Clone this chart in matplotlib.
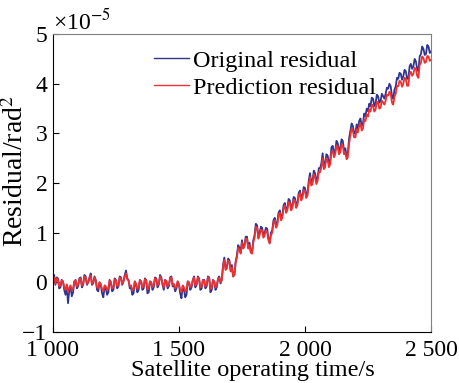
import numpy as np
import matplotlib.pyplot as plt

plt.rcParams["font.family"] = ["Liberation Serif", "DejaVu Serif"]
plt.rcParams["mathtext.fontset"] = "stix"

# time axis (s), one sample every 5 s
t = np.arange(1000, 2505, 5)

# residuals, in units of 1e-5 rad^2
original = [
    0.05, 0.15, -0.05, 0.10, 0.08, -0.12, -0.10, 0.05, 0.02, -0.15,
    -0.25, -0.05, -0.42, -0.15, -0.10, -0.28, -0.20, 0.02, 0.05, -0.12,
    -0.08, 0.08, 0.10, -0.10, -0.05, 0.15, 0.12, -0.05, 0.00, 0.10,
    0.18, -0.05, -0.02, 0.12, 0.05, -0.15, -0.18, 0.00, -0.05, -0.22,
    -0.30, -0.10, -0.12, -0.25, -0.20, 0.05, 0.00, -0.18, -0.15, 0.08,
    0.05, -0.12, -0.08, 0.12, 0.10, -0.05, 0.02, 0.15, 0.24, 0.08,
    0.05, -0.12, -0.10, -0.25, -0.22, 0.02, -0.05, -0.20, -0.15, 0.05,
    0.02, -0.15, -0.12, 0.08, 0.05, -0.22, -0.20, 0.02, 0.00, -0.15,
    -0.10, 0.10, 0.08, -0.10, -0.05, 0.15, 0.10, -0.05, -0.15, 0.05,
    0.03, -0.12, -0.08, 0.10, 0.12, -0.08, -0.05, -0.18, -0.12, 0.02,
    -0.05, -0.22, -0.32, -0.08, -0.15, -0.30, -0.25, 0.02, 0.00, -0.15,
    -0.10, 0.05, 0.12, -0.10, -0.05, 0.12, 0.08, -0.15, -0.12, 0.05,
    0.05, -0.12, -0.08, 0.12, 0.10, -0.20, -0.15, 0.05, 0.02, -0.15,
    -0.10, 0.08, 0.12, -0.02, 0.05, 0.35, 0.50, 0.28, 0.30, 0.48,
    0.45, 0.25, 0.35, 0.12, 0.15, 0.42, 0.55, 0.75, 0.70, 0.60,
    0.85, 0.70, 0.75, 0.92, 0.92, 0.70, 0.80, 0.62, 0.60, 0.85,
    0.95, 1.18, 1.15, 0.92, 1.00, 1.12, 1.10, 0.95, 1.00, 1.10,
    1.08, 0.88, 0.80, 1.00, 1.05, 1.25, 1.30, 1.15, 1.20, 1.40,
    1.45, 1.30, 1.35, 1.55, 1.60, 1.45, 1.50, 1.68, 1.65, 1.50,
    1.55, 1.72, 1.70, 1.55, 1.60, 1.80, 1.85, 1.70, 1.75, 1.92,
    1.90, 1.75, 1.80, 2.05, 2.20, 2.00, 2.05, 2.25, 2.20, 2.05,
    2.10, 2.30, 2.30, 2.40, 2.60, 2.35, 2.40, 2.58, 2.55, 2.40,
    2.45, 2.72, 2.75, 2.60, 2.65, 2.85, 2.80, 2.65, 2.70, 2.88,
    2.85, 2.65, 2.70, 2.55, 2.60, 2.90, 3.05, 3.20, 3.15, 3.00,
    3.00, 3.18, 3.10, 3.25, 3.30, 3.15, 3.20, 3.40, 3.35, 3.50,
    3.45, 3.60, 3.55, 3.72, 3.70, 3.55, 3.60, 3.78, 3.75, 3.62,
    3.65, 3.80, 3.75, 3.70, 3.80, 3.92, 3.90, 4.00, 3.95, 3.75,
    3.70, 3.88, 3.95, 4.12, 4.10, 4.22, 4.20, 4.08, 4.15, 4.28,
    4.25, 4.10, 4.10, 4.35, 4.40, 4.30, 4.35, 4.50, 4.45, 4.30,
    4.25, 4.55, 4.60, 4.75, 4.70, 4.58, 4.60, 4.78, 4.75, 4.62,
    4.65,
]

prediction = [
    0.04, 0.10, -0.03, 0.08, 0.06, -0.08, -0.06, 0.04, 0.02, -0.10,
    -0.15, -0.04, -0.20, -0.10, -0.06, -0.16, -0.12, 0.02, 0.04, -0.08,
    -0.05, 0.06, 0.08, -0.06, -0.03, 0.12, 0.10, -0.03, 0.00, 0.08,
    0.14, -0.03, 0.00, 0.10, 0.04, -0.10, -0.12, 0.00, -0.03, -0.14,
    -0.18, -0.06, -0.08, -0.15, -0.12, 0.04, 0.00, -0.12, -0.10, 0.06,
    0.04, -0.08, -0.05, 0.10, 0.08, -0.03, 0.02, 0.12, 0.18, 0.06,
    0.04, -0.08, -0.06, -0.16, -0.14, 0.02, -0.03, -0.13, -0.10, 0.04,
    0.02, -0.10, -0.08, 0.06, 0.04, -0.14, -0.12, 0.02, 0.00, -0.10,
    -0.06, 0.08, 0.06, -0.06, -0.03, 0.12, 0.08, -0.03, -0.10, 0.04,
    0.03, -0.08, -0.05, 0.08, 0.10, -0.05, -0.03, -0.12, -0.08, 0.02,
    -0.04, -0.15, -0.20, -0.06, -0.10, -0.18, -0.15, 0.02, 0.00, -0.10,
    -0.06, 0.04, 0.10, -0.06, -0.03, 0.10, 0.06, -0.10, -0.08, 0.04,
    0.04, -0.08, -0.05, 0.10, 0.08, -0.13, -0.10, 0.04, 0.02, -0.10,
    -0.06, 0.06, 0.10, 0.00, 0.05, 0.32, 0.45, 0.25, 0.28, 0.44,
    0.42, 0.22, 0.30, 0.12, 0.15, 0.40, 0.50, 0.70, 0.65, 0.58,
    0.80, 0.68, 0.72, 0.88, 0.88, 0.68, 0.75, 0.60, 0.58, 0.80,
    0.90, 1.12, 1.10, 0.88, 0.95, 1.06, 1.05, 0.90, 0.95, 1.05,
    1.02, 0.85, 0.78, 0.95, 1.00, 1.20, 1.25, 1.10, 1.15, 1.35,
    1.40, 1.25, 1.30, 1.50, 1.55, 1.40, 1.45, 1.62, 1.60, 1.45,
    1.50, 1.66, 1.65, 1.50, 1.55, 1.74, 1.80, 1.65, 1.70, 1.86,
    1.84, 1.70, 1.75, 1.98, 2.12, 1.95, 1.98, 2.18, 2.12, 1.98,
    2.04, 2.22, 2.22, 2.32, 2.50, 2.28, 2.32, 2.50, 2.46, 2.32,
    2.38, 2.62, 2.65, 2.52, 2.58, 2.76, 2.72, 2.58, 2.62, 2.78,
    2.76, 2.58, 2.62, 2.48, 2.52, 2.80, 2.95, 3.10, 3.05, 2.92,
    2.92, 3.08, 3.02, 3.15, 3.20, 3.06, 3.10, 3.28, 3.25, 3.38,
    3.34, 3.48, 3.44, 3.58, 3.56, 3.44, 3.48, 3.64, 3.62, 3.50,
    3.52, 3.66, 3.62, 3.58, 3.66, 3.78, 3.76, 3.84, 3.80, 3.62,
    3.58, 3.74, 3.80, 3.96, 3.95, 4.06, 4.04, 3.94, 4.00, 4.12,
    4.10, 3.96, 3.96, 4.20, 4.24, 4.16, 4.20, 4.32, 4.30, 4.16,
    4.12, 4.38, 4.42, 4.55, 4.52, 4.42, 4.44, 4.56, 4.55, 4.46,
    4.48,
]

x_ticks = [1000, 1500, 2000, 2500]
x_tick_labels = ["1 000", "1 500", "2 000", "2 500"]
y_ticks = [-1, 0, 1, 2, 3, 4, 5]
y_tick_labels = ["\u22121", "0", "1", "2", "3", "4", "5"]

fig = plt.figure(figsize=(4.6, 3.83), dpi=100)
ax = fig.add_axes([0.115, 0.133, 0.822, 0.778])

ax.plot(t, original, color="#2f3590", lw=1.3, label="Original residual")
ax.plot(t, prediction, color="#ee3030", lw=1.3, label="Prediction residual")

ax.set_xlim(1000, 2500)
ax.set_ylim(-1, 5)
ax.set_xticks(x_ticks)
ax.set_xticklabels(x_tick_labels)
ax.set_yticks(y_ticks)
ax.set_yticklabels(y_tick_labels)
ax.tick_params(direction="in", length=4, labelsize=17)
ax.tick_params(axis="x", pad=6)
ax.tick_params(axis="y", pad=4)

for side in ["top", "right"]:
    ax.spines[side].set_color("#808080")
for s in ax.spines.values():
    s.set_linewidth(0.8)

ax.set_xlabel("Satellite operating time/s", fontsize=17.5)
ax.xaxis.set_label_coords(0.529, -0.095)
ax.set_ylabel("Residual/rad$^2$", fontsize=20)
ax.yaxis.set_label_coords(-0.062, 0.54)
ax.text(0.0, 1.0, "\u00d710$^{-5}$", transform=ax.transAxes,
        fontsize=17, ha="left", va="bottom")

leg = ax.legend(loc="upper left", bbox_to_anchor=(0.225, 1.0), frameon=False,
                fontsize=17.5, handlelength=1.45, handletextpad=0.15,
                labelspacing=0.2, borderaxespad=0.25)
for line in leg.get_lines():
    line.set_linewidth(1.0)

fig.savefig("out.png", dpi=100)
